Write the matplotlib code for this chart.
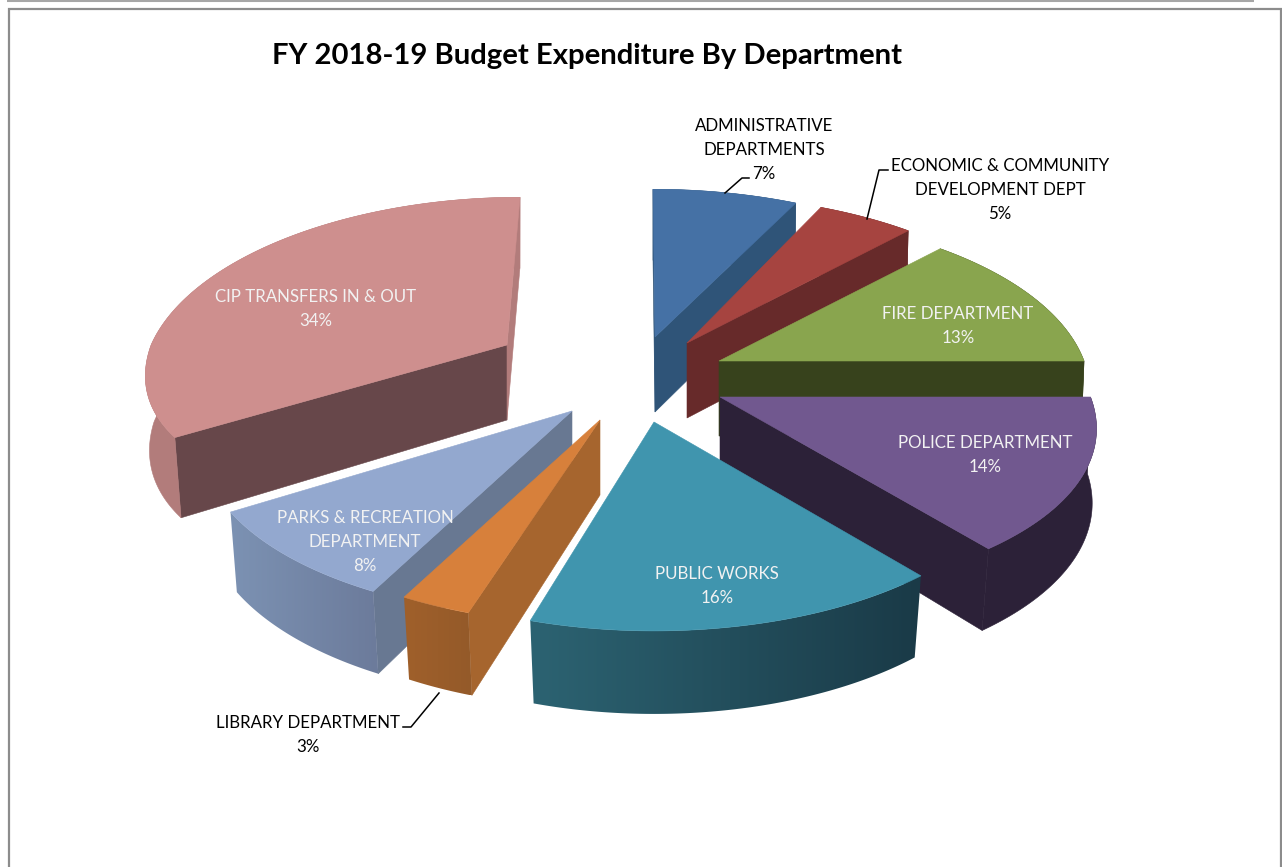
import numpy as np
import matplotlib
matplotlib.use("Agg")
import matplotlib.pyplot as plt
from matplotlib.patches import Polygon
from matplotlib.path import Path
from matplotlib.colors import to_rgb

# ---- data
departments = ["ADMINISTRATIVE\nDEPARTMENTS", "ECONOMIC & COMMUNITY\nDEVELOPMENT DEPT",
               "FIRE DEPARTMENT", "POLICE DEPARTMENT", "PUBLIC WORKS",
               "LIBRARY DEPARTMENT", "PARKS & RECREATION\nDEPARTMENT", "CIP TRANSFERS IN & OUT"]
percents = [7, 5, 13, 14, 16, 3, 8, 34]
title = "FY 2018-19 Budget Expenditure By Department"

# ---- layout (pixels on the 1282x867 canvas)
apex_x = [655, 687, 719, 720, 654, 600, 572, 507]
apex_y = [337, 343, 361, 397, 422, 420, 411, 345]
radius_x = [1.0, 1.0, 1.0, 1.015, 0.99, 0.97, 1.0, 0.975]
radius_y_near = [1.0, 1.0, 1.0, 0.95, 0.987, 0.966, 0.98, 0.81]
far_shift = [-2, 0, 0, 0, 0, 0, 0, 13]
trim_start = [0, 0, 0, 0, 0, 0, -1.5, 0]      # degrees: perspective warp of the slice edges
trim_end = [1.7, 0, 0, 1, -1.5, -1, 0.3, 0]
RX, RY, PERSP = 365.0, 174.0, 0.178
DEPTH, DEPTH_V, APEX_DEPTH = 77.0, 6.0, 75
SHRINK_BASE, SHRINK_V = 0.008, 0.02
draw_order = [7, 0, 1, 2, 3, 6, 5, 4]

label_x = [764, 1000, 958, 985, 717, 308, 365, 316]
label_y = [150, 190, 326, 455, 586, 735, 542, 309]
label_color = ["black", "black", "#F2F2F2", "#F2F2F2", "#F2F2F2", "black", "#F2F2F2", "#F2F2F2"]
leaders = {0: ([725, 742, 749], [193, 178, 178]),
           1: ([867, 879, 888], [219, 170, 170]),
           5: ([439, 411, 403], [693, 727, 727])}

# ---- styles
top_colors = ["#4571A5", "#A64440", "#89A54E", "#71588F", "#4095AE", "#D7803B", "#93A8CF", "#CE8F8E"]
cut_start = ["#2F5478", "#672A2A", "#37421C", "#2C2138", "#1C3D49", "#A6652E", "#687892", "#67474A"]
cut_end = ["#2F5478", "#672A2A", "#37421C", "#2C2138", "#1C3D49", "#A6652E", "#687892", "#B27C7B"]
wall_left = ["#2F5478", "#672A2A", "#37421C", "#2C2138", "#2C6372", "#A0602B", "#7C92B3", "#B27C7B"]
wall_right = ["#2F5478", "#672A2A", "#37421C", "#2C2138", "#1A3A47", "#945A29", "#6C7B9B", "#B27C7B"]
FONT = "Lato"
LABEL_SIZE = 12.2
TITLE_SIZE = 21.1

fig = plt.figure(figsize=(12.82, 8.67), dpi=100, facecolor="white")
ax = fig.add_axes([0, 0, 1, 1])
ax.set_xlim(0, 1282)
ax.set_ylim(867, 0)
ax.axis("off")

# frame and the rule above it
ax.plot([7, 1254], [1.2, 1.2], color="#A6A6A6", lw=1.5, solid_capstyle="butt")
ax.plot([8.5, 8.5, 1281, 1281], [867, 9, 9, 867], color="#8C8C8C", lw=1.6, solid_joinstyle="miter")


def rim_point(i, theta):
    u, v = np.sin(theta), -np.cos(theta)
    d = 1 - PERSP * v
    sy = 1 + (radius_y_near[i] - 1) * np.maximum(v, 0)
    x = apex_x[i] + radius_x[i] * RX * u / d + far_shift[i] * np.maximum(0, -v)
    y = apex_y[i] + sy * RY * v / d
    return x, y, v


def lower(i, x, y, v):
    shrink = 1 - SHRINK_BASE - SHRINK_V * np.maximum(v, 0)
    return apex_x[i] + (x - apex_x[i]) * shrink, y + DEPTH + DEPTH_V * v


def patch(pts, color, z):
    ax.add_patch(Polygon(pts, closed=True, facecolor=color, edgecolor=color, lw=0.4, zorder=z))


fractions = np.array(percents, float) / sum(percents)
ends = np.cumsum(fractions) * 2 * np.pi
starts = ends - fractions * 2 * np.pi

for rank, i in enumerate(draw_order):
    z = 10 + rank
    th = np.linspace(starts[i] + np.radians(trim_start[i]), ends[i] + np.radians(trim_end[i]),
                     max(12, percents[i] * 6))
    x, y, v = rim_point(i, th)
    xb, yb = lower(i, x, y, v)
    ax_i, ay_i = apex_x[i], apex_y[i]
    top_pts = np.vstack([[ax_i, ay_i], np.column_stack([x, y])])
    top_path = Path(np.vstack([top_pts, top_pts[0]]))

    # cut faces: only those that fall outside the top face when extruded downward
    for idx, col in ((0, cut_start[i]), (-1, cut_end[i])):
        probe = (ax_i + 0.5 * (x[idx] - ax_i), ay_i + 0.5 * (y[idx] - ay_i) + 4)
        if not top_path.contains_point(probe):
            patch([[ax_i, ay_i], [x[idx], y[idx]], [xb[idx], yb[idx]], [ax_i, ay_i + APEX_DEPTH]], col, z)

    # outer wall, shaded from left to right on screen
    wall_pts = np.vstack([np.column_stack([x, y]), np.column_stack([xb, yb])[::-1]])
    if wall_left[i] == wall_right[i]:
        patch(wall_pts, wall_left[i], z + 0.1)
    else:
        lo, hi = wall_pts[:, 0].min(), wall_pts[:, 0].max()
        t = np.linspace(0, 1, 256)[:, None]
        grad = (np.array(to_rgb(wall_left[i])) * (1 - t) + np.array(to_rgb(wall_right[i])) * t)[None, :, :]
        im = ax.imshow(grad, extent=(lo, hi, wall_pts[:, 1].max(), wall_pts[:, 1].min()),
                       aspect="auto", interpolation="bilinear", zorder=z + 0.1)
        im.set_clip_path(Polygon(wall_pts, closed=True, transform=ax.transData))

    patch(top_pts, top_colors[i], z + 0.5)

    ax.text(label_x[i], label_y[i], f"{departments[i]}\n{percents[i]}%", ha="center", va="center",
            multialignment="center", color=label_color[i], fontsize=LABEL_SIZE, family=FONT,
            linespacing=1.64, zorder=40)

for k, (lx, ly) in leaders.items():
    ax.plot(lx, ly, color="black", lw=1.1, zorder=35)

ax.text(587, 56, title, ha="center", va="center", fontsize=TITLE_SIZE, fontweight="bold",
        family=FONT, color="black", zorder=40)

ax.set_xlim(0, 1282)
ax.set_ylim(867, 0)
fig.savefig("out.png", dpi=100)
